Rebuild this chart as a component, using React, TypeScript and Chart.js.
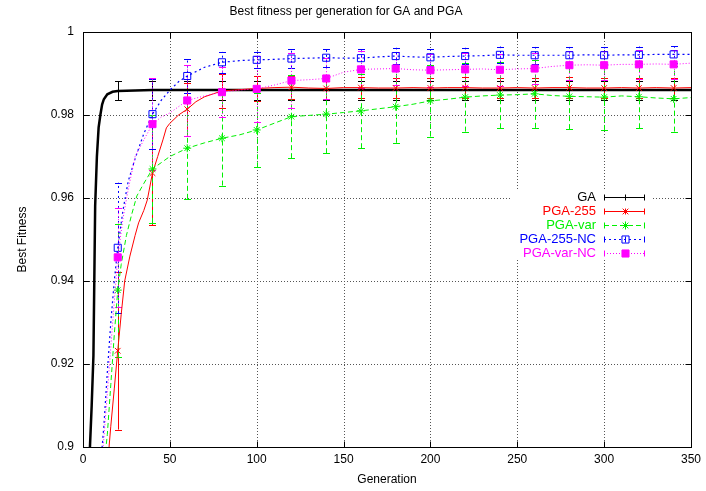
import React, { useEffect, useRef } from 'react';
import { Chart, registerables } from 'chart.js';
import { drawPoint } from 'chart.js/helpers';

Chart.register(...registerables);

const TITLE = 'Best fitness per generation for GA and PGA';
const X_LABEL = 'Generation';
const Y_LABEL = 'Best Fitness';

const X_TICKS = [0, 50, 100, 150, 200, 250, 300, 350];
const X_TICK_LABELS = ['0', '50', '100', '150', '200', '250', '300', '350'];
const Y_TICKS = [0.9, 0.92, 0.94, 0.96, 0.98, 1];
const Y_TICK_LABELS = ['0.9', '0.92', '0.94', '0.96', '0.98', '1'];

// generations where markers / error bars are plotted
const MARKER_GENS = [20, 40, 60, 80, 100, 120, 140, 160, 180, 200, 220, 240, 260, 280, 300, 320, 340];

const SERIES_NAMES = ['GA', 'PGA-255', 'PGA-var', 'PGA-255-NC', 'PGA-var-NC'];

const GA_GENS = [3, 4, 5, 6, 7, 8, 9, 10, 11, 12, 14, 17, 20, 40, 60, 80, 100, 120, 140, 160, 180, 200, 220, 240, 260, 280, 300, 320, 340, 350];
const GA_FIT = [0.885, 0.9, 0.91, 0.922, 0.958, 0.97, 0.977, 0.98, 0.9825, 0.9838, 0.985, 0.9856, 0.9858, 0.986, 0.986, 0.986, 0.986, 0.986, 0.986, 0.986, 0.986, 0.986, 0.986, 0.986, 0.986, 0.986, 0.986, 0.986, 0.986, 0.986];
const GA_ERR = [0.0023, 0.0023, 0.0023, 0.0023, 0.0023, 0.0023, 0.0023, 0.0023, 0.0023, 0.0023, 0.0023, 0.0023, 0.0023, 0.0023, 0.0023, 0.0023, 0.0023];

const RED_GENS = [14, 16, 18, 20, 22, 24, 27, 30, 32, 35, 37, 40, 43, 46, 48, 50, 55, 60, 65, 70, 75, 80, 90, 100, 110, 120, 130, 140, 150, 160, 170, 180, 190, 200, 210, 220, 230, 240, 250, 260, 270, 280, 290, 300, 310, 320, 330, 340, 350];
const RED_FIT = [0.895, 0.905, 0.914, 0.9232, 0.932, 0.94, 0.946, 0.951, 0.954, 0.957, 0.9595, 0.966, 0.97, 0.974, 0.9769, 0.978, 0.98, 0.9814, 0.9832, 0.9844, 0.9851, 0.9858, 0.9861, 0.9864, 0.9866, 0.9867, 0.9865, 0.9864, 0.9866, 0.9866, 0.9865, 0.9865, 0.9866, 0.9865, 0.9866, 0.9866, 0.9865, 0.9865, 0.9866, 0.9865, 0.9866, 0.9866, 0.9865, 0.9865, 0.9866, 0.9865, 0.9866, 0.9865, 0.9866];
const RED_ERR = [0.019, 0.0125, 0.0064, 0.004, 0.003, 0.0028, 0.0025, 0.0025, 0.0025, 0.0025, 0.0025, 0.0025, 0.0025, 0.0025, 0.0025, 0.0025, 0.0025];

const GREEN_GENS = [12, 14, 16, 18, 20, 22, 25, 28, 31, 35, 40, 45, 50, 55, 60, 70, 80, 90, 100, 110, 120, 130, 140, 150, 160, 170, 180, 190, 200, 210, 220, 230, 240, 250, 260, 270, 280, 290, 300, 310, 320, 330, 340, 350];
const GREEN_FIT = [0.895, 0.903, 0.915, 0.927, 0.9378, 0.944, 0.951, 0.956, 0.9605, 0.9635, 0.967, 0.9685, 0.97, 0.971, 0.972, 0.9733, 0.9744, 0.9752, 0.9764, 0.978, 0.9796, 0.9799, 0.9802, 0.9806, 0.981, 0.9815, 0.982, 0.9826, 0.9834, 0.9838, 0.9843, 0.9846, 0.9848, 0.9849, 0.9851, 0.9847, 0.9845, 0.9844, 0.9843, 0.9846, 0.9844, 0.9841, 0.9839, 0.9842];
const GREEN_ERR = [0.016, 0.013, 0.0122, 0.0114, 0.009, 0.01, 0.0094, 0.009, 0.0087, 0.0086, 0.0083, 0.008, 0.0082, 0.0079, 0.0079, 0.0076, 0.0079];

const BLUE_GENS = [10, 12, 14, 16, 18, 20, 23, 26, 30, 35, 40, 45, 50, 55, 60, 70, 80, 90, 100, 110, 120, 130, 140, 150, 160, 170, 180, 190, 200, 210, 220, 230, 240, 250, 260, 270, 280, 290, 300, 310, 320, 330, 340, 350];
const BLUE_FIT = [0.895, 0.905, 0.918, 0.93, 0.94, 0.948, 0.957, 0.964, 0.9695, 0.9755, 0.9802, 0.9835, 0.986, 0.988, 0.9894, 0.9915, 0.9927, 0.9931, 0.9933, 0.9934, 0.9936, 0.9937, 0.9938, 0.9937, 0.9937, 0.994, 0.9942, 0.994, 0.9939, 0.9941, 0.9942, 0.9943, 0.9945, 0.9944, 0.9944, 0.9944, 0.9944, 0.9945, 0.9944, 0.9945, 0.9945, 0.9946, 0.9946, 0.9946];
const BLUE_ERR = [0.0157, 0.0085, 0.004, 0.0025, 0.002, 0.0022, 0.0022, 0.0022, 0.002, 0.002, 0.002, 0.002, 0.002, 0.002, 0.002, 0.002, 0.002];

const PINK_GENS = [10, 12, 14, 16, 18, 20, 23, 26, 30, 35, 40, 45, 50, 55, 60, 70, 80, 90, 100, 110, 120, 130, 140, 150, 160, 170, 180, 190, 200, 210, 220, 230, 240, 250, 260, 270, 280, 290, 300, 310, 320, 330, 340, 350];
const PINK_FIT = [0.893, 0.902, 0.913, 0.924, 0.935, 0.9457, 0.955, 0.962, 0.97, 0.974, 0.9778, 0.9795, 0.9805, 0.982, 0.9835, 0.9846, 0.9855, 0.986, 0.9863, 0.9872, 0.9883, 0.9885, 0.9888, 0.9903, 0.991, 0.9911, 0.9912, 0.9909, 0.9908, 0.9909, 0.991, 0.9911, 0.9909, 0.9911, 0.9912, 0.9917, 0.992, 0.9921, 0.992, 0.9922, 0.9922, 0.9923, 0.9922, 0.9925];
const PINK_ERR = [0.012, 0.011, 0.0085, 0.006, 0.008, 0.0066, 0.005, 0.0045, 0.004, 0.004, 0.004, 0.0038, 0.0038, 0.0035, 0.0035, 0.0035, 0.0035];

const FONT = "'Liberation Sans', Arial, Helvetica, sans-serif";

type Series = {
  name: string;
  gens: number[];
  fit: number[];
  err: number[];
  color: string;
  width: number;
  dash: number[];
  pointStyle: any;
  radius: number;
  fill: string;
};

const SERIES: Series[] = [
  { name: SERIES_NAMES[0], gens: GA_GENS, fit: GA_FIT, err: GA_ERR, color: '#000000', width: 2.5, dash: [], pointStyle: false, radius: 0, fill: 'transparent' },
  { name: SERIES_NAMES[1], gens: RED_GENS, fit: RED_FIT, err: RED_ERR, color: '#ff0000', width: 1, dash: [], pointStyle: 'crossRot', radius: 4, fill: 'transparent' },
  { name: SERIES_NAMES[2], gens: GREEN_GENS, fit: GREEN_FIT, err: GREEN_ERR, color: '#00f000', width: 1, dash: [5, 3], pointStyle: 'star', radius: 4, fill: 'transparent' },
  { name: SERIES_NAMES[3], gens: BLUE_GENS, fit: BLUE_FIT, err: BLUE_ERR, color: '#0000ff', width: 1.2, dash: [2, 3], pointStyle: 'rect', radius: 5, fill: 'rgba(0,0,0,0)' },
  { name: SERIES_NAMES[4], gens: PINK_GENS, fit: PINK_FIT, err: PINK_ERR, color: '#ff00ff', width: 1, dash: [1, 2], pointStyle: 'rect', radius: 5, fill: '#ff00ff' },
];

const errorBarPlugin = {
  id: 'errorBars',
  beforeDatasetsDraw(chart: any) {
    const { ctx, chartArea, scales } = chart;
    const xs = scales.x;
    const ys = scales.y;
    ctx.save();
    // dotted grid
    ctx.strokeStyle = '#555';
    ctx.lineWidth = 1;
    ctx.setLineDash([1, 2]);
    ctx.beginPath();
    X_TICKS.forEach((v) => {
      const px = Math.round(xs.getPixelForValue(v)) + 0.5;
      ctx.moveTo(px, chartArea.top);
      ctx.lineTo(px, chartArea.bottom);
    });
    Y_TICKS.forEach((v) => {
      const py = Math.round(ys.getPixelForValue(v)) + 0.5;
      ctx.moveTo(chartArea.left, py);
      ctx.lineTo(chartArea.right, py);
    });
    ctx.stroke();
    ctx.setLineDash([]);

    ctx.beginPath();
    ctx.rect(chartArea.left, chartArea.top, chartArea.right - chartArea.left, chartArea.bottom - chartArea.top);
    ctx.clip();
    SERIES.forEach((s) => {
      ctx.strokeStyle = s.color;
      MARKER_GENS.forEach((g, i) => {
        const idx = s.gens.indexOf(g);
        if (idx < 0) return;
        const v = s.fit[idx];
        const e = s.err[i];
        const px = Math.round(xs.getPixelForValue(g)) + 0.5;
        const y1 = ys.getPixelForValue(v - e);
        const y2 = ys.getPixelForValue(v + e);
        ctx.lineWidth = 1;
        ctx.setLineDash(s.dash);
        ctx.beginPath();
        ctx.moveTo(px, y1);
        ctx.lineTo(px, y2);
        ctx.stroke();
        ctx.setLineDash([]);
        ctx.beginPath();
        ctx.moveTo(px - 3.5, Math.round(y1) + 0.5);
        ctx.lineTo(px + 3.5, Math.round(y1) + 0.5);
        ctx.moveTo(px - 3.5, Math.round(y2) + 0.5);
        ctx.lineTo(px + 3.5, Math.round(y2) + 0.5);
        ctx.stroke();
      });
    });
    ctx.restore();
  },
};

const framePlugin = {
  id: 'frameAndKey',
  afterDraw(chart: any) {
    const { ctx, chartArea, scales } = chart;
    const xs = scales.x;
    const ys = scales.y;
    const L = Math.round(chartArea.left) + 0.5;
    const R = Math.round(chartArea.right) + 0.5;
    const T = Math.round(chartArea.top) + 0.5;
    const B = Math.round(chartArea.bottom) + 0.5;
    ctx.save();
    ctx.strokeStyle = '#000';
    ctx.lineWidth = 1;
    ctx.setLineDash([]);
    ctx.beginPath();
    X_TICKS.forEach((v) => {
      const px = Math.round(xs.getPixelForValue(v)) + 0.5;
      ctx.moveTo(px, B);
      ctx.lineTo(px, B - 6);
      ctx.moveTo(px, T);
      ctx.lineTo(px, T + 6);
    });
    Y_TICKS.forEach((v) => {
      const py = Math.round(ys.getPixelForValue(v)) + 0.5;
      ctx.moveTo(L, py);
      ctx.lineTo(L + 6, py);
      ctx.moveTo(R, py);
      ctx.lineTo(R - 6, py);
    });
    ctx.stroke();
    ctx.strokeRect(L, T, R - L, B - T);

    // key
    ctx.fillStyle = '#fff';
    ctx.fillRect(510, 191, 141, 69);
    const x0 = 604;
    const x1 = 645;
    const xm = (x0 + x1) / 2;
    ctx.font = `13px ${FONT}`;
    ctx.textAlign = 'right';
    ctx.textBaseline = 'middle';
    SERIES.forEach((s, i) => {
      const y = Math.round(197 + i * 14.1) + 0.5;
      ctx.fillStyle = s.color;
      ctx.fillText(s.name, 596, y);
      ctx.strokeStyle = s.color;
      ctx.lineWidth = 1;
      ctx.setLineDash(s.dash);
      ctx.beginPath();
      ctx.moveTo(x0, y);
      ctx.lineTo(x1, y);
      ctx.stroke();
      ctx.setLineDash([]);
      ctx.beginPath();
      ctx.moveTo(x0 + 0.5, y - 3);
      ctx.lineTo(x0 + 0.5, y + 3);
      ctx.moveTo(x1 - 0.5, y - 3);
      ctx.lineTo(x1 - 0.5, y + 3);
      ctx.moveTo(Math.round(xm) + 0.5, y - 3);
      ctx.lineTo(Math.round(xm) + 0.5, y + 3);
      ctx.stroke();
      if (s.pointStyle) {
        ctx.fillStyle = s.fill;
        ctx.lineWidth = 1;
        drawPoint(ctx, { pointStyle: s.pointStyle, radius: s.radius, borderWidth: 1, rotation: 0 } as any, Math.round(xm) + 0.5, y);
      }
    });
    ctx.restore();
  },
};

export default function App() {
  const ref = useRef<HTMLCanvasElement | null>(null);
  useEffect(() => {
    const canvas = ref.current;
    if (!canvas) return;
    const datasets = SERIES.map((s, si) => ({
      label: s.name,
      data: s.gens.map((g, i) => ({ x: g, y: s.fit[i] })),
      borderColor: s.color,
      backgroundColor: s.color,
      borderWidth: s.width,
      borderDash: s.dash,
      pointStyle: s.pointStyle || 'circle',
      pointRadius: (c: any) => (s.pointStyle && c.raw && MARKER_GENS.includes(c.raw.x) ? s.radius : 0),
      pointBorderColor: s.color,
      pointBackgroundColor: s.fill,
      pointBorderWidth: 1,
      pointHoverRadius: 0,
      tension: 0,
      fill: false,
      order: SERIES.length - si,
    }));
    const chart = new Chart(canvas, {
      type: 'line',
      data: { datasets },
      options: {
        animation: false,
        responsive: false,
        devicePixelRatio: 1,
        events: [],
        layout: { padding: { top: 0, right: 14, left: 0, bottom: 0 } },
        plugins: {
          legend: { display: false },
          tooltip: { enabled: false },
          title: {
            display: true,
            text: TITLE,
            color: '#000',
            font: { family: FONT, size: 12, weight: 'normal' },
            padding: { top: 4, bottom: 13.6 },
          },
        },
        scales: {
          x: {
            type: 'linear',
            min: 0,
            max: 350,
            afterBuildTicks: (sc: any) => {
              sc.ticks = X_TICKS.map((v) => ({ value: v }));
            },
            afterFit: (sc: any) => {
              sc.height = 44;
            },
            ticks: {
              callback: (_v: any, i: number) => X_TICK_LABELS[i],
              color: '#000',
              font: { family: FONT, size: 12 },
              padding: 5,
              maxRotation: 0,
              autoSkip: false,
            },
            grid: { display: false, drawTicks: false },
            border: { display: false },
            title: {
              display: true,
              text: X_LABEL,
              color: '#000',
              font: { family: FONT, size: 12 },
              padding: { top: 0, bottom: 4 },
            },
          },
          y: {
            type: 'linear',
            min: 0.9,
            max: 1,
            afterBuildTicks: (sc: any) => {
              sc.ticks = Y_TICKS.map((v) => ({ value: v }));
            },
            afterFit: (sc: any) => {
              sc.width = 83;
            },
            ticks: {
              callback: (_v: any, i: number) => Y_TICK_LABELS[i],
              color: '#000',
              font: { family: FONT, size: 12 },
              padding: 9,
              autoSkip: false,
            },
            grid: { display: false, drawTicks: false },
            border: { display: false },
            title: {
              display: true,
              text: Y_LABEL,
              color: '#000',
              font: { family: FONT, size: 12 },
              padding: { top: 15, bottom: 0 },
            },
          },
        },
      } as any,
      plugins: [errorBarPlugin, framePlugin],
    });
    return () => chart.destroy();
  }, []);
  return (
    <div style={{ position: 'fixed', left: 0, top: 0, width: 706, height: 491, background: '#fff' }}>
      <canvas ref={ref} width={706} height={491} style={{ display: 'block', width: 706, height: 491 }} />
    </div>
  );
}
